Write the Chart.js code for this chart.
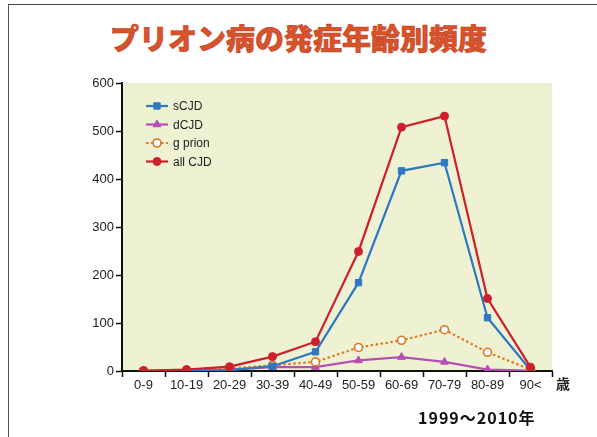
<!DOCTYPE html>
<html>
<head>
<meta charset="utf-8">
<script src="https://cdn.jsdelivr.net/npm/chart.js@4"></script>
<style>
  html, body { margin: 0; padding: 0; background: #fff; }
  #wrap { position: relative; width: 597px; height: 437px; overflow: hidden; }
  #frame { position: absolute; left: 8px; top: 4px; right: -2px; bottom: -2px;
           border-left: 1.5px solid #555; border-top: 1.5px solid #444; }
  #title { position: absolute; left: 0; width: 597px; top: 16px; text-align: center;
           font-family: "Noto Sans CJK JP", sans-serif; font-weight: 900; font-size: 29px;
           color: #d6532b; -webkit-text-stroke: 0.6px #c2401e; }
  #unit { position: absolute; left: 556px; top: 373px; font-family: "Noto Sans CJK JP", sans-serif;
          font-weight: bold; font-size: 14px; color: #222; }
  #period { position: absolute; left: 418px; top: 405px; font-family: "Noto Sans CJK JP", sans-serif;
            font-weight: bold; font-size: 16px; letter-spacing: 1px; color: #111; }
  canvas { position: absolute; left: 0; top: 0; }
</style>
</head>
<body>
<div id="wrap">
  <div id="frame"></div>
  <div id="title">プリオン病の発症年齢別頻度</div>
  <canvas id="myChart" width="597" height="437"></canvas>
  <div id="unit">歳</div>
  <div id="period">1999～2010年</div>
</div>
<script>
// age groups and counts
var ageGroups = ['0-9', '10-19', '20-29', '30-39', '40-49', '50-59', '60-69', '70-79', '80-89', '90<'];
var sCJD   = [0, 0, 2, 10, 40, 184, 417, 434, 111, 2];
var dCJD   = [0, 0, 3, 8, 8, 22, 29, 19, 3, 1];
var gPrion = [0, 1, 5, 12, 19, 49, 64, 86, 39, 3];
var allCJD = [1, 3, 9, 30, 61, 249, 508, 531, 151, 8];
var yTicks = [0, 100, 200, 300, 400, 500, 600];

// light green plot background
var plotBg = {
    id: 'plotBg',
    beforeDraw: function(chart) {
        var a = chart.chartArea, c = chart.ctx;
        c.save();
        c.fillStyle = '#eef2d3';
        c.fillRect(a.left, a.top, a.right - a.left, a.bottom - a.top);
        c.restore();
    }
};

// legend drawn inside the plot: line sample with marker in the middle
var innerLegend = {
    id: 'innerLegend',
    afterDraw: function(chart) {
        var c = chart.ctx;
        var x0 = 146, x1 = 168, y = 106;
        chart.data.datasets.forEach(function(ds) {
            var opts = {
                pointStyle: ds.pointStyle,
                radius: ds.pointRadius,
                borderWidth: ds.pointBorderWidth || 1
            };
            c.save();
            c.strokeStyle = ds.borderColor;
            c.lineWidth = ds.borderWidth;
            c.setLineDash(ds.borderDash || []);
            c.beginPath();
            c.moveTo(x0, y);
            c.lineTo(x1, y);
            c.stroke();
            c.setLineDash([]);
            c.fillStyle = ds.pointBackgroundColor;
            c.strokeStyle = ds.pointBorderColor;
            c.lineWidth = ds.pointBorderWidth || 1;
            Chart.helpers.drawPoint(c, opts, (x0 + x1) / 2, y);
            c.fillStyle = '#222';
            c.font = '12px "Liberation Sans", Arial, sans-serif';
            c.textBaseline = 'middle';
            c.fillText(ds.label, 173, y + 1);
            c.restore();
            y += 18.5;
        });
    }
};

window.addEventListener("DOMContentLoaded", function(event) {
    var ctx = document.getElementById('myChart');
    var tickFont = { family: '"Liberation Sans", Arial, sans-serif', size: 13 };

    var myChart = new Chart(ctx, {
        type: 'line',
        data: {
            labels: ageGroups,
            datasets: [{
                label: 'sCJD',
                data: sCJD,
                borderColor: '#2e78c2',
                borderWidth: 2.2,
                pointStyle: 'rect',
                pointRadius: 4.5,
                pointBackgroundColor: '#2e78c2',
                pointBorderColor: '#2e78c2',
                pointBorderWidth: 1,
                order: 1
            }, {
                label: 'dCJD',
                data: dCJD,
                borderColor: '#b64fb4',
                borderWidth: 2.2,
                pointStyle: 'triangle',
                pointRadius: 4.5,
                pointBackgroundColor: '#b64fb4',
                pointBorderColor: '#b64fb4',
                pointBorderWidth: 1,
                order: 3
            }, {
                label: 'g prion',
                data: gPrion,
                borderColor: '#e07b22',
                borderWidth: 2.2,
                borderDash: [2.5, 2.5],
                pointStyle: 'circle',
                pointRadius: 4,
                pointBackgroundColor: '#ffffff',
                pointBorderColor: '#de7420',
                pointBorderWidth: 1.6,
                order: 2
            }, {
                label: 'all CJD',
                data: allCJD,
                borderColor: '#cf1e2c',
                borderWidth: 2.2,
                pointStyle: 'circle',
                pointRadius: 4,
                pointBackgroundColor: '#cf1e2c',
                pointBorderColor: '#cf1e2c',
                pointBorderWidth: 1,
                order: 0
            }]
        },
        options: {
            responsive: false,
            animation: false,
            tension: 0,
            layout: { padding: { left: 0, top: 83, right: 45, bottom: 0 } },
            plugins: {
                legend: { display: false },
                tooltip: { enabled: false }
            },
            scales: {
                x: {
                    offset: true,
                    grid: {
                        offset: true,
                        drawOnChartArea: false,
                        drawTicks: true,
                        tickLength: 6,
                        tickWidth: 1.5,
                        tickColor: '#111'
                    },
                    border: { color: '#111', width: 2 },
                    ticks: { color: '#222', font: tickFont, padding: 1, maxRotation: 0, autoSkip: false },
                    afterFit: function(scale) { scale.height = 66; }
                },
                y: {
                    min: 0,
                    max: 600,
                    afterBuildTicks: function(scale) {
                        scale.ticks = yTicks.map(function(v) { return { value: v }; });
                    },
                    grid: {
                        drawOnChartArea: false,
                        drawTicks: true,
                        tickLength: 6,
                        tickWidth: 1.5,
                        tickColor: '#111'
                    },
                    border: { color: '#111', width: 2 },
                    ticks: { color: '#222', font: tickFont, padding: 2 },
                    afterFit: function(scale) { scale.width = 122; }
                }
            }
        },
        plugins: [plotBg, innerLegend]
    });
});
</script>
</body>
</html>
